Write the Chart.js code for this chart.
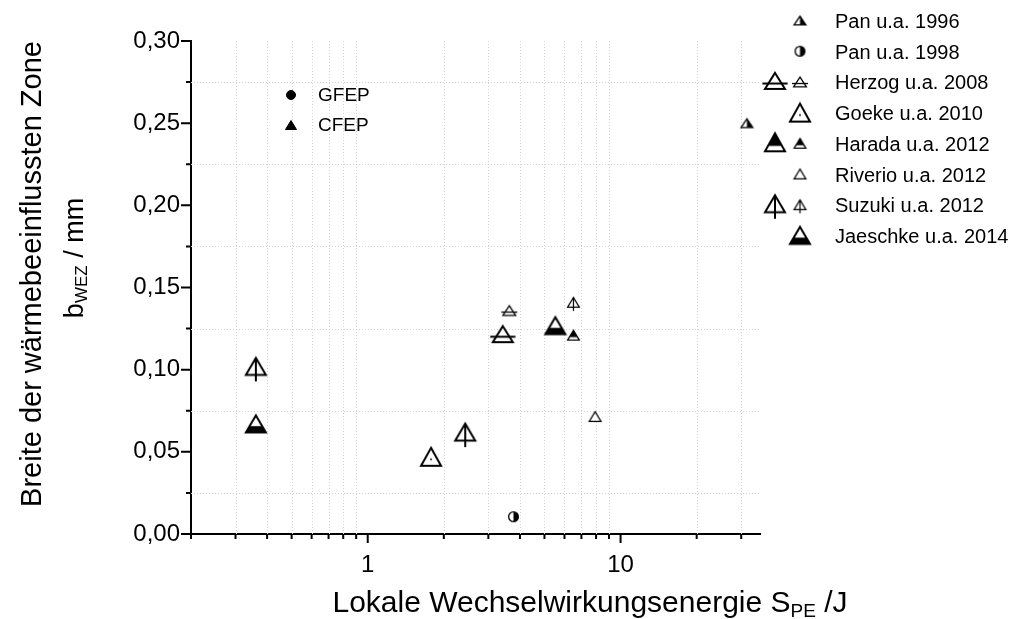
<!DOCTYPE html>
<html>
<head>
<meta charset="utf-8">
<script src="https://cdn.jsdelivr.net/npm/chart.js@4.4.1/dist/chart.umd.min.js"></script>
<style>
  html, body { margin: 0; padding: 0; background: #fff; }
  #wrap { width: 1014px; height: 619px; }
</style>
</head>
<body>
<div id="wrap"><canvas id="chart" width="1014" height="619"></canvas></div>
<script>
// axis ticks
const xMajor = [1, 10];
const xMajorLabels = ['1', '10'];
const xMinor = [0.2, 0.3, 0.4, 0.5, 0.6, 0.7, 0.8, 0.9, 2, 3, 4, 5, 6, 7, 8, 9, 20, 30];
const yMajor = [0, 0.05, 0.10, 0.15, 0.20, 0.25, 0.30];
const yMajorLabels = ['0,00', '0,05', '0,10', '0,15', '0,20', '0,25', '0,30'];
const yMinor = [0.025, 0.075, 0.125, 0.175, 0.225, 0.275];

// values: S_PE in J, b_WEZ in mm
const pan1996X = [31.6];           const pan1996Y = [0.250];
const pan1998X = [3.77];           const pan1998Y = [0.0105];
const herzogLargeX = [3.42];       const herzogLargeY = [0.1216];
const herzogSmallX = [3.63];       const herzogSmallY = [0.136];
const goekeX = [1.78];             const goekeY = [0.047];
const haradaSmallX = [6.51];       const haradaSmallY = [0.121];
const riverioX = [7.93];           const riverioY = [0.0715];
const suzukiLargeX = [0.361, 2.43]; const suzukiLargeY = [0.102, 0.062];
const suzukiSmallX = [6.51];       const suzukiSmallY = [0.141];
const jaeschkeX = [0.361, 5.52];   const jaeschkeY = [0.067, 0.1268];

// legend
const legendLabels = ['Pan u.a. 1996', 'Pan u.a. 1998', 'Herzog u.a. 2008', 'Goeke u.a. 2010',
  'Harada u.a. 2012', 'Riverio u.a. 2012', 'Suzuki u.a. 2012', 'Jaeschke u.a. 2014'];
const legendLeft = [null, null, 'herzogL', null, 'haradaL', null, 'suzukiL', null];
const legendRight = ['pan96', 'pan98', 'herzogS', 'goekeL', 'haradaS', 'riverioS', 'suzukiS', 'jaeschkeL'];
const groupLabels = ['GFEP', 'CFEP'];
const groupMarkers = ['gfep', 'cfep'];

const FONT = '"Liberation Sans", Arial, sans-serif';

function makeMarker(kind, W, H, lw) {
  const S = Math.ceil(Math.max(W, H)) + 20;
  const c = document.createElement('canvas');
  c.width = S; c.height = S;
  const g = c.getContext('2d');
  const w = W - lw, h = H - lw;
  const cx = S / 2, cy = S / 2;
  const top = cy - h / 2, bot = cy + h / 2, l = cx - w / 2, r = cx + w / 2;
  g.lineWidth = lw;
  g.strokeStyle = '#000';
  g.fillStyle = '#fff';
  const tri = () => { g.beginPath(); g.moveTo(cx, top); g.lineTo(r, bot); g.lineTo(l, bot); g.closePath(); };
  const clipFill = (x, y, ww, hh) => {
    g.save(); tri(); g.clip(); g.fillStyle = '#000'; g.fillRect(x, y, ww, hh); g.restore();
  };
  if (kind === 'halfCircle' || kind === 'solidCircle') {
    const rad = w / 2;
    g.beginPath(); g.arc(cx, cy, rad, 0, Math.PI * 2);
    g.fillStyle = kind === 'solidCircle' ? '#000' : '#fff';
    g.fill();
    if (kind === 'halfCircle') {
      g.beginPath(); g.arc(cx, cy, rad, -Math.PI / 2, Math.PI / 2); g.closePath();
      g.fillStyle = '#000'; g.fill();
    }
    g.beginPath(); g.arc(cx, cy, rad, 0, Math.PI * 2); g.stroke();
    return c;
  }
  tri();
  g.fillStyle = kind === 'solidTri' ? '#000' : '#fff';
  g.fill();
  if (kind === 'half') clipFill(cx, top - 2, w, h + 4);
  if (kind === 'top') clipFill(l - 2, top - 2, w + 4, h * 0.7 + 2);
  if (kind === 'bottom') clipFill(l - 2, top + h * 0.63, w + 4, h);
  tri(); g.stroke();
  if (kind === 'line') {
    g.beginPath(); g.moveTo(l - lw * 1.3, top + h * 0.66); g.lineTo(r + lw * 1.3, top + h * 0.66); g.stroke();
  }
  if (kind === 'stem') {
    g.beginPath(); g.moveTo(cx, top); g.lineTo(cx, bot + h * 0.38); g.stroke();
  }
  if (kind === 'dot') {
    g.beginPath(); g.arc(cx, cy + h * 0.14, 0.9, 0, Math.PI * 2); g.fillStyle = '#000'; g.fill();
  }
  return c;
}

const markers = {
  pan96: makeMarker('half', 13, 10, 1.3),
  pan98: makeMarker('halfCircle', 11, 11, 1.3),
  herzogL: makeMarker('line', 22, 18, 2),
  herzogS: makeMarker('line', 14, 11, 1.3),
  goekeL: makeMarker('dot', 22, 20, 2),
  haradaL: makeMarker('top', 22, 20, 2),
  haradaS: makeMarker('top', 13, 11, 1.3),
  riverioS: makeMarker('plain', 13, 11, 1.2),
  suzukiL: makeMarker('stem', 22, 19, 2),
  suzukiS: makeMarker('stem', 13, 11, 1.2),
  jaeschkeL: makeMarker('bottom', 22, 19, 2),
  gfep: makeMarker('solidCircle', 10, 10, 1),
  cfep: makeMarker('solidTri', 12, 10, 1)
};

function series(label, xs, ys, key) {
  return {
    label: label,
    data: xs.map((x, i) => ({ x: x, y: ys[i] })),
    pointStyle: markers[key],
    pointRadius: 6,
    pointHoverRadius: 6,
    clip: false
  };
}

const datasets = [
  series('Pan u.a. 1996', pan1996X, pan1996Y, 'pan96'),
  series('Pan u.a. 1998', pan1998X, pan1998Y, 'pan98'),
  series('Herzog u.a. 2008 (groß)', herzogLargeX, herzogLargeY, 'herzogL'),
  series('Herzog u.a. 2008', herzogSmallX, herzogSmallY, 'herzogS'),
  series('Goeke u.a. 2010', goekeX, goekeY, 'goekeL'),
  series('Harada u.a. 2012', haradaSmallX, haradaSmallY, 'haradaS'),
  series('Riverio u.a. 2012', riverioX, riverioY, 'riverioS'),
  series('Suzuki u.a. 2012 (groß)', suzukiLargeX, suzukiLargeY, 'suzukiL'),
  series('Suzuki u.a. 2012', suzukiSmallX, suzukiSmallY, 'suzukiS'),
  series('Jaeschke u.a. 2014', jaeschkeX, jaeschkeY, 'jaeschkeL')
];

const near = (arr, v) => arr.findIndex(a => Math.abs(a - v) < 1e-9);

// draws text pieces, some as subscripts, centred on cx
function drawParts(ctx, parts, cx, y, size) {
  const subSize = Math.round(size * 0.62);
  let total = 0;
  parts.forEach(p => {
    ctx.font = (p.sub ? subSize : size) + 'px ' + FONT;
    p.w = ctx.measureText(p.t).width;
    total += p.w;
  });
  let x = cx - total / 2;
  ctx.textAlign = 'left';
  ctx.textBaseline = 'alphabetic';
  parts.forEach(p => {
    ctx.font = (p.sub ? subSize : size) + 'px ' + FONT;
    ctx.fillText(p.t, x, p.sub ? y + size * 0.15 : y);
    x += p.w;
  });
}

// dotted grid at the minor ticks
const gridPlugin = {
  id: 'dotGrid',
  beforeDatasetsDraw(chart) {
    const ctx = chart.ctx;
    const a = chart.chartArea;
    const xs = chart.scales.x, ys = chart.scales.y;
    ctx.save();
    ctx.strokeStyle = '#d2d2d2';
    ctx.lineWidth = 1;
    ctx.setLineDash([1, 2]);
    ctx.beginPath();
    xMinor.slice(1).forEach(v => {
      const p = Math.round(xs.getPixelForValue(v)) + 0.5;
      ctx.moveTo(p, a.top); ctx.lineTo(p, a.bottom);
    });
    yMinor.forEach(v => {
      const p = Math.round(ys.getPixelForValue(v)) + 0.5;
      ctx.moveTo(a.left, p); ctx.lineTo(a.right, p);
    });
    ctx.stroke();
    ctx.restore();
  }
};

const decorPlugin = {
  id: 'decor',
  afterDraw(chart) {
    const ctx = chart.ctx;
    const a = chart.chartArea;
    const xs = chart.scales.x, ys = chart.scales.y;
    ctx.save();
    ctx.strokeStyle = '#000';
    ctx.fillStyle = '#000';
    ctx.lineWidth = 2;
    ctx.beginPath();
    xMajor.forEach(v => { const p = xs.getPixelForValue(v); ctx.moveTo(p, a.bottom); ctx.lineTo(p, a.bottom + 9); });
    xMinor.forEach(v => { const p = xs.getPixelForValue(v); ctx.moveTo(p, a.bottom); ctx.lineTo(p, a.bottom + 5); });
    yMajor.forEach(v => { const p = ys.getPixelForValue(v); ctx.moveTo(a.left - 10, p); ctx.lineTo(a.left, p); });
    yMinor.forEach(v => { const p = ys.getPixelForValue(v); ctx.moveTo(a.left - 5, p); ctx.lineTo(a.left, p); });
    ctx.stroke();

    // inner legend
    ctx.font = '19px ' + FONT;
    ctx.textAlign = 'left';
    ctx.textBaseline = 'middle';
    groupLabels.forEach((t, i) => {
      const y = 95 + i * 30;
      const m = markers[groupMarkers[i]];
      ctx.drawImage(m, 291 - m.width / 2, y - m.height / 2);
      ctx.fillText(t, 318, y + 1);
    });

    // right legend
    ctx.font = '20px ' + FONT;
    legendLabels.forEach((t, i) => {
      const y = 21.5 + i * 30.7;
      if (legendLeft[i]) {
        const m = markers[legendLeft[i]];
        ctx.drawImage(m, 775 - m.width / 2, y - 2 - m.height / 2);
      }
      const m2 = markers[legendRight[i]];
      const big = m2.width > 30;
      ctx.drawImage(m2, 800 - m2.width / 2, (big ? y - 1 : y) - m2.height / 2);
      ctx.fillText(t, 835, y + 1);
    });

    // axis titles
    drawParts(ctx, [{ t: 'Lokale Wechselwirkungsenergie S' }, { t: 'PE', sub: true }, { t: ' /J' }], 590, 612, 30);
    ctx.save();
    ctx.translate(41, 274);
    ctx.rotate(-Math.PI / 2);
    drawParts(ctx, [{ t: 'Breite der wärmebeeinflussten Zone' }], 0, 0, 29);
    ctx.restore();
    ctx.save();
    ctx.translate(83, 258);
    ctx.rotate(-Math.PI / 2);
    drawParts(ctx, [{ t: 'b' }, { t: 'WEZ', sub: true }, { t: ' / mm' }], 0, 0, 27);
    ctx.restore();
    ctx.restore();
  }
};

const config = {
  type: 'scatter',
  data: { datasets: datasets },
  options: {
    responsive: false,
    animation: false,
    devicePixelRatio: 1,
    layout: { padding: { left: 0, top: 41, right: 254, bottom: 25 } },
    plugins: {
      legend: { display: false },
      tooltip: { enabled: false }
    },
    scales: {
      x: {
        type: 'logarithmic',
        min: 0.2,
        max: 35.6,
        afterBuildTicks: s => { s.ticks = xMinor.concat(xMajor).sort((p, q) => p - q).map(v => ({ value: v })); },
        afterFit: s => { s.height = 60; },
        ticks: {
          autoSkip: false,
          maxRotation: 0,
          padding: 17,
          color: '#000',
          font: { family: FONT, size: 24 },
          callback: v => { const i = near(xMajor, v); return i >= 0 ? xMajorLabels[i] : ''; }
        },
        grid: { display: false, drawTicks: false },
        border: { display: true, color: '#000', width: 2 }
      },
      y: {
        min: 0,
        max: 0.3,
        afterBuildTicks: s => { s.ticks = yMinor.concat(yMajor).sort((p, q) => p - q).map(v => ({ value: v })); },
        afterFit: s => { s.width = 191; },
        ticks: {
          autoSkip: false,
          padding: 11,
          color: '#000',
          font: { family: FONT, size: 24 },
          callback: v => { const i = near(yMajor, v); return i >= 0 ? yMajorLabels[i] : ''; }
        },
        grid: { display: false, drawTicks: false },
        border: { display: true, color: '#000', width: 2 }
      }
    }
  },
  plugins: [gridPlugin, decorPlugin]
};

const myChart = new Chart(document.getElementById('chart'), config);
</script>
</body>
</html>
